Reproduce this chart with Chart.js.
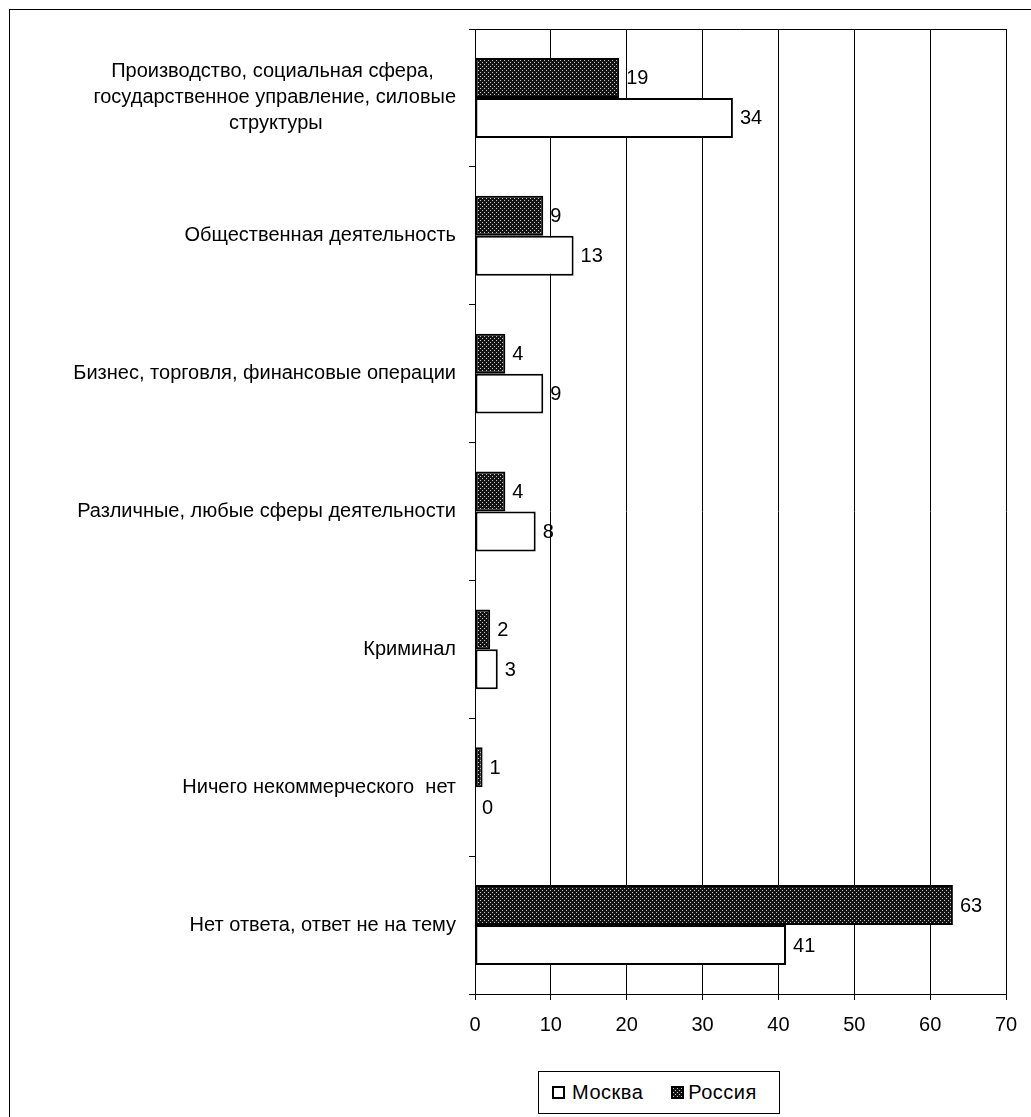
<!DOCTYPE html>
<html>
<head>
<meta charset="utf-8">
<script src="https://cdn.jsdelivr.net/npm/chart.js@4.4.0/dist/chart.umd.min.js"></script>
<style>
  html, body { margin: 0; padding: 0; background: #fff; }
  #wrap { position: relative; width: 1031px; height: 1117px; overflow: hidden; background: #fff; }
  #frame { position: absolute; left: 9px; top: 9px; width: 1040px; height: 1130px;
           border-top: 1px solid #000; border-left: 1px solid #000; box-sizing: border-box; }
  #chart { position: absolute; left: 0; top: 0; }
  #legend { position: absolute; left: 538px; top: 1071px; width: 242px; height: 43px;
            border: 1px solid #000; box-sizing: border-box; background: #fff;
            display: flex; align-items: center; font: 20px "Liberation Sans", Arial, sans-serif; color: #000; }
  .item { display: flex; align-items: center; }
  .sw { width: 13px; height: 13px; box-sizing: border-box; border: 2px solid #000; }
</style>
</head>
<body>
<div id="wrap">
  <div id="frame"></div>
  <canvas id="chart" width="1031" height="1117"></canvas>
  <div id="legend">
    <div class="item" style="margin-left:13px"><div class="sw" style="background:#fff;margin-right:7px"></div><span style="letter-spacing:0.5px">Москва</span></div>
    <div class="item" style="margin-left:28px"><canvas id="sw2" class="sw" width="9" height="9" style="width:13px;height:13px;margin-right:4px"></canvas><span style="letter-spacing:0.5px">Россия</span></div>
  </div>
</div>
<script>
// ---- data ----
const categories = [
  ["Производство, социальная сфера,", "государственное управление, силовые", "структуры"],
  "Общественная деятельность",
  "Бизнес, торговля, финансовые операции",
  "Различные, любые сферы деятельности",
  "Криминал",
  "Ничего некоммерческого  нет",
  "Нет ответа, ответ не на тему"
];
const seriesNames = ["Россия", "Москва"];
const russia = [19, 9, 4, 4, 2, 1, 63];
const moscow = [34, 13, 9, 8, 3, 0, 41];
const xMin = 0, xMax = 70, xStep = 10;

// ---- styling helpers ----
const FONT = '"Liberation Sans", Arial, sans-serif';
const FS = 20;

function makePattern() {
  const c = document.createElement('canvas');
  c.width = 4; c.height = 4;
  const g = c.getContext('2d');
  g.fillStyle = '#141414';
  g.fillRect(0, 0, 4, 4);
  g.fillStyle = '#c8c8c8';
  g.fillRect(0, 0, 1, 1);
  g.fillRect(2, 2, 1, 1);
  return c;
}
const patCanvas = makePattern();
const chartCtx = document.getElementById('chart').getContext('2d');
const dotPattern = chartCtx.createPattern(patCanvas, 'repeat');

// legend swatch
(function () {
  const s = document.getElementById('sw2');
  const g = s.getContext('2d');
  g.fillStyle = g.createPattern(patCanvas, 'repeat');
  g.fillRect(0, 0, s.width, s.height);
})();

// center multi-line category labels (pad shorter lines with trailing spaces)
const measureCtx = document.createElement('canvas').getContext('2d');
measureCtx.font = FS + 'px ' + FONT;
function centerLines(lbl) {
  if (!Array.isArray(lbl)) return lbl;
  const widths = lbl.map(s => measureCtx.measureText(s).width);
  const W = Math.max(...widths);
  const sp = measureCtx.measureText(' ').width;
  return lbl.map((s, i) => s + ' '.repeat(Math.round((W - widths[i]) / 2 / sp)));
}
const yLabels = categories.map(centerLines);

const plotBorder = {
  id: 'plotBorder',
  afterDraw(chart) {
    const { ctx, chartArea: a } = chart;
    ctx.save();
    ctx.strokeStyle = '#000';
    ctx.lineWidth = 1;
    ctx.beginPath();
    ctx.moveTo(a.left, Math.round(a.top) + 0.5);
    ctx.lineTo(a.right + 0.5, Math.round(a.top) + 0.5);
    ctx.stroke();
    ctx.restore();
  }
};

const valueLabels = {
  id: 'valueLabels',
  afterDatasetsDraw(chart) {
    const ctx = chart.ctx;
    ctx.save();
    ctx.font = FS + 'px ' + FONT;
    ctx.fillStyle = '#000';
    ctx.textAlign = 'left';
    ctx.textBaseline = 'middle';
    chart.data.datasets.forEach((ds, di) => {
      const meta = chart.getDatasetMeta(di);
      meta.data.forEach((bar, i) => {
        ctx.fillText(String(ds.data[i]), bar.x + 7, bar.y + 1);
      });
    });
    ctx.restore();
  }
};

new Chart(chartCtx, {
  type: 'bar',
  data: {
    labels: yLabels,
    datasets: [
      { label: seriesNames[0], data: russia, backgroundColor: dotPattern,
        borderColor: '#000', borderWidth: 2, borderSkipped: false },
      { label: seriesNames[1], data: moscow, backgroundColor: '#fff',
        borderColor: '#000', borderWidth: 2, borderSkipped: false }
    ]
  },
  options: {
    indexAxis: 'y',
    responsive: false,
    animation: false,
    devicePixelRatio: 1,
    categoryPercentage: 0.58,
    barPercentage: 1.0,
    layout: { padding: { top: 29, left: 0, right: 25, bottom: 73 } },
    plugins: {
      legend: { display: false },
      tooltip: { enabled: false }
    },
    scales: {
      x: {
        min: xMin, max: xMax,
        afterFit(s) { s.height = 50; },
        ticks: { stepSize: xStep, color: '#000', padding: 13,
                 font: { family: FONT, size: FS } },
        grid: { color: '#000', lineWidth: 1, tickLength: 6, drawOnChartArea: true },
        border: { display: true, color: '#000', width: 1 }
      },
      y: {
        afterFit(s) { s.width = 475; },
        ticks: { color: '#000', padding: 13, autoSkip: false,
                 font: { family: FONT, size: FS, lineHeight: 1.3 } },
        grid: { display: true, drawOnChartArea: false, color: '#000', tickLength: 6, offset: true },
        border: { display: true, color: '#000', width: 1 }
      }
    }
  },
  plugins: [plotBorder, valueLabels]
});
</script>
</body>
</html>
